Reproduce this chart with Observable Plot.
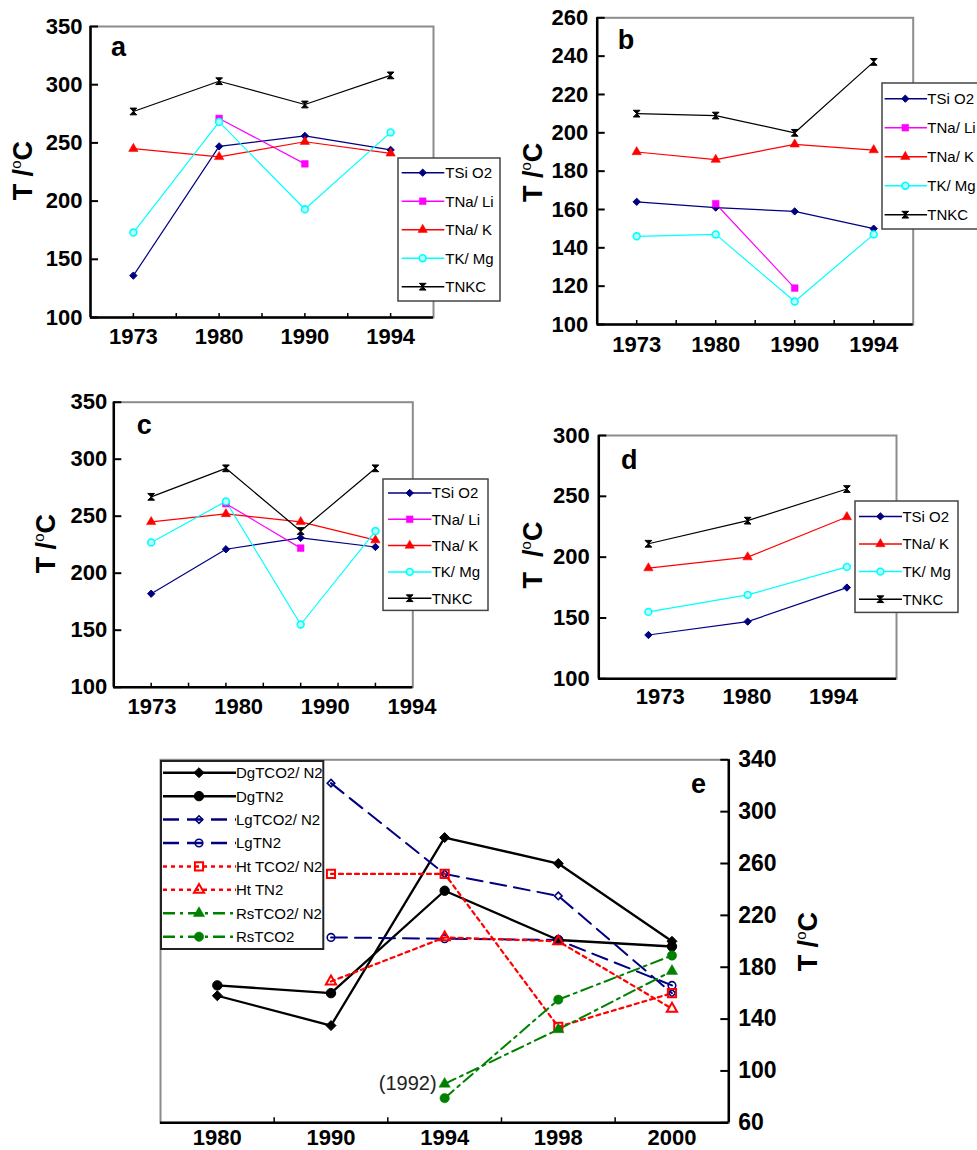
<!DOCTYPE html>
<html>
<head>
<meta charset="utf-8">
<script src="https://cdn.jsdelivr.net/npm/d3@7"></script>
<script src="https://cdn.jsdelivr.net/npm/@observablehq/plot@0.6"></script>
<style>
html,body{margin:0;padding:0;background:#fff;overflow:hidden}
#root{position:relative;width:977px;height:1150px;overflow:hidden;font-family:"Liberation Sans",Arial,Helvetica,sans-serif}
.pn{position:absolute}
.pn svg{display:block;overflow:visible}
</style>
</head>
<body>
<div id="root"></div>
<script>
// ---------------- DATA ----------------
const namesABC = ["TSi O2", "TNa/ Li", "TNa/ K", "TK/ Mg", "TNKC"];
const namesD = ["TSi O2", "TNa/ K", "TK/ Mg", "TNKC"];
const namesE = ["DgTCO2/ N2", "DgTN2", "LgTCO2/ N2", "LgTN2", "Ht TCO2/ N2", "Ht TN2", "RsTCO2/ N2", "RsTCO2"];

// panel a
const yearsA = ["1973", "1980", "1990", "1994"];
const a_TSiO2 = [136, 247, 256, 244];
const a_TNaLi = [null, 271, 232, null];
const a_TNaK = [245, 238, 251, 241];
const a_TKMg = [173, 268, 193, 259];
const a_TNKC = [277, 303, 283, 308];
const ticksA = [100, 150, 200, 250, 300, 350];

// panel b
const yearsB = ["1973", "1980", "1990", "1994"];
const b_TSiO2 = [164, 161, 159, 150];
const b_TNaLi = [null, 163, 119, null];
const b_TNaK = [190, 186, 194, 191];
const b_TKMg = [146, 147, 112, 147];
const b_TNKC = [210, 209, 200, 237];
const ticksB = [100, 120, 140, 160, 180, 200, 220, 240, 260];

// panel c
const yearsC = ["1973", "1980", "1990", "1994"];
const c_TSiO2 = [182, 221, 231, 223];
const c_TNaLi = [null, 261, 222, null];
const c_TNaK = [245, 252, 245, 229];
const c_TKMg = [227, 263, 155, 237];
const c_TNKC = [267, 292, 237, 292];
const ticksC = [100, 150, 200, 250, 300, 350];

// panel d
const yearsD = ["1973", "1980", "1994"];
const d_TSiO2 = [136, 147, 175];
const d_TNaK = [191, 200, 233];
const d_TKMg = [155, 169, 192];
const d_TNKC = [211, 230, 256];
const ticksD = [100, 150, 200, 250, 300];

// panel e
const yearsE = ["1980", "1990", "1994", "1998", "2000"];
const e_DgTCO2N2 = [158, 135, 280, 260, 200];
const e_DgTN2 = [166, 160, 239, 201, 196];
const e_LgTCO2N2 = [null, 322, 252, 235, 160];
const e_LgTN2 = [null, 203, 202, 201, 166];
const e_HtTCO2N2 = [null, 252, 252, 134, 160];
const e_HtTN2 = [null, 169, 203, 200, 148];
const e_RsTCO2N2 = [null, null, 90, 132, 177];
const e_RsTCO2 = [null, null, 79, 155, 189];
const ticksE = [60, 100, 140, 180, 220, 260, 300, 340];
const noteE = "(1992)";
const noteYear = "1994";

// ---------------- STYLES ----------------
const FONT = '"Liberation Sans", Arial, Helvetica, sans-serif';
const NAVY = "#000080", MAG = "#ff00ff", RED = "#ff0000", CYAN = "#00ffff", BLACK = "#000000", GREEN = "#008000";
const bowtie = {draw(ctx, size) {
  const r = Math.sqrt(size) / 2;
  ctx.moveTo(-r, -r); ctx.lineTo(r, -r); ctx.lineTo(-r, r); ctx.lineTo(r, r); ctx.closePath();
}};
const sty = {
  "TSi O2": {line: NAVY, lw: 1.2, symbol: d3.symbolDiamond2, r: 3.3, fill: NAVY, stroke: NAVY, sw: 1},
  "TNa/ Li": {line: MAG, lw: 1.2, symbol: d3.symbolSquare, r: 3.8, fill: MAG, stroke: MAG, sw: 0.5},
  "TNa/ K": {line: RED, lw: 1.2, symbol: d3.symbolTriangle, r: 3.5, fill: RED, stroke: RED, sw: 0.5},
  "TK/ Mg": {line: CYAN, lw: 1.2, symbol: d3.symbolCircle, r: 3.4, fill: "#b8ffff", stroke: CYAN, sw: 1.6},
  "TNKC": {line: BLACK, lw: 1.2, symbol: bowtie, r: 3.8, fill: BLACK, stroke: BLACK, sw: 1},
  "DgTCO2/ N2": {line: BLACK, lw: 2.3, symbol: d3.symbolDiamond2, r: 4.5, fill: BLACK, stroke: BLACK, sw: 1},
  "DgTN2": {line: BLACK, lw: 2.3, symbol: d3.symbolCircle, r: 4.7, fill: BLACK, stroke: BLACK, sw: 1},
  "LgTCO2/ N2": {line: NAVY, lw: 2, dash: "16,8", symbol: d3.symbolDiamond2, r: 3.4, fill: "none", stroke: NAVY, sw: 1.6},
  "LgTN2": {line: NAVY, lw: 2, dash: "16,8", symbol: d3.symbolCircle, r: 3.8, fill: "none", stroke: NAVY, sw: 1.6},
  "Ht TCO2/ N2": {line: RED, lw: 2.2, dash: "4,4", symbol: d3.symbolSquare, r: 4.6, fill: "none", stroke: RED, sw: 2},
  "Ht TN2": {line: RED, lw: 2.2, dash: "4,4", symbol: d3.symbolTriangle, r: 3.8, fill: "none", stroke: RED, sw: 2},
  "RsTCO2/ N2": {line: GREEN, lw: 2, dash: "12,5,3,5", symbol: d3.symbolTriangle, r: 4.2, fill: GREEN, stroke: GREEN, sw: 0.5},
  "RsTCO2": {line: GREEN, lw: 2, dash: "12,5,3,5", symbol: d3.symbolCircle, r: 4.7, fill: GREEN, stroke: GREEN, sw: 0.5}
};

const root = d3.select("#root");

function makePanel(cfg) {
  const [mt, mr, mb, ml] = cfg.margin;
  const n = cfg.cats.length;
  const pw = cfg.width - ml - mr, ph = cfg.height - mt - mb;
  const right = cfg.yAnchor === "right";
  const marks = [Plot.frame({stroke: "#8c8c8c", strokeWidth: 2})];
  for (const s of cfg.series) {
    const st = sty[s.name];
    marks.push(Plot.line(s.values, {x: (d, i) => i, y: d => d, stroke: st.line, strokeWidth: st.lw, strokeDasharray: st.dash}));
  }
  for (const s of cfg.series) {
    const st = sty[s.name];
    marks.push(Plot.dot(s.values, {x: (d, i) => i, y: d => d, symbol: st.symbol, r: st.r, fill: st.fill, stroke: st.stroke, strokeWidth: st.sw}));
  }
  marks.push(Plot.ruleY([cfg.yDomain[0]], {stroke: "#000", strokeWidth: 2.5}));
  marks.push(Plot.ruleX([right ? n - 0.5 : -0.5], {stroke: "#000", strokeWidth: 2.5}));
  marks.push(Plot.tickY(cfg.yTicks, {y: d => d, stroke: "#000", strokeWidth: 2, insetLeft: right ? pw - 8 : 0, insetRight: right ? 0 : pw - 8}));
  if (cfg.xTicks.length) marks.push(Plot.tickX(cfg.xTicks, {x: d => d, stroke: "#000", strokeWidth: 1.5, insetTop: ph - cfg.xTickLen}));
  marks.push(Plot.axisY({anchor: right ? "right" : "left", ticks: cfg.yTicks, tickSize: 0, tickPadding: cfg.yPad, label: null}));
  if (cfg.labelStep == null) {
    marks.push(Plot.axisX({ticks: d3.range(n), tickFormat: i => cfg.cats[i], tickSize: 0, tickPadding: cfg.xPad, label: null, fontSize: cfg.xfs || cfg.fs}));
  } else {
    marks.push(Plot.text(cfg.cats, {x: (d, i) => cfg.labelStart + i * cfg.labelStep, frameAnchor: "bottom", lineAnchor: "top", dy: cfg.xPad, text: d => d}));
  }
  if (cfg.extra) marks.push(...cfg.extra);
  const plot = Plot.plot({
    width: cfg.width, height: cfg.height,
    marginTop: mt, marginRight: mr, marginBottom: mb, marginLeft: ml,
    x: {type: "linear", domain: [-0.5, n - 0.5], axis: cfg.labelStep == null ? undefined : null},
    y: {type: "linear", domain: cfg.yDomain},
    style: {fontFamily: FONT, fontSize: cfg.fs + "px", fontWeight: "bold", background: "transparent", overflow: "visible", color: "#000"},
    marks
  });
  const div = root.append("div").attr("class", "pn")
    .style("left", cfg.left + "px").style("top", cfg.top + "px")
    .style("width", cfg.width + "px").style("height", cfg.height + "px");
  div.node().appendChild(plot);
}

function makeLegend(cfg) {
  const svg = root.append("svg").attr("class", "pn")
    .style("left", cfg.left + "px").style("top", cfg.top + "px")
    .attr("width", cfg.width + 4).attr("height", cfg.height + 4)
    .style("overflow", "visible");
  svg.append("rect").attr("x", 0).attr("y", 0).attr("width", cfg.width).attr("height", cfg.height)
    .attr("fill", "#fff").attr("stroke", cfg.border).attr("stroke-width", cfg.bw);
  cfg.names.forEach((name, i) => {
    const st = sty[name];
    const y = cfg.y0 + i * cfg.dy;
    svg.append("line").attr("x1", cfg.x0).attr("x2", cfg.x1).attr("y1", y).attr("y2", y)
      .attr("stroke", st.line).attr("stroke-width", cfg.lw || st.lw).attr("stroke-dasharray", st.dash || null);
    svg.append("path").attr("transform", `translate(${cfg.xm},${y})`)
      .attr("d", d3.symbol().type(st.symbol).size(Math.PI * st.r * st.r)())
      .attr("fill", st.fill).attr("stroke", st.stroke).attr("stroke-width", st.sw);
    svg.append("text").attr("x", cfg.xt).attr("y", y).attr("dy", "0.36em")
      .attr("font-family", FONT).attr("font-size", cfg.fs).text(name);
  });
}

// ---------------- PANELS ----------------
makePanel({left: 0, top: 0, width: 490, height: 360, margin: [26, 57, 43, 90], fs: 22,
  cats: yearsA, yDomain: [100, 350], yTicks: ticksA, yPad: 8, xPad: 10.5,
  xTicks: [0, 0.5, 1, 1.5, 2, 2.5, 3], xTickLen: 4,
  series: [{name: "TSi O2", values: a_TSiO2}, {name: "TNa/ Li", values: a_TNaLi}, {name: "TNa/ K", values: a_TNaK}, {name: "TK/ Mg", values: a_TKMg}, {name: "TNKC", values: a_TNKC}]});

makePanel({left: 490, top: 0, width: 487, height: 370, margin: [17.3, 64.3, 46, 106.7], fs: 22,
  cats: yearsB, yDomain: [100, 260], yTicks: ticksB, yPad: 9, xPad: 12,
  xTicks: [0, 0.5, 1, 1.5, 2, 2.5, 3], xTickLen: 4,
  series: [{name: "TSi O2", values: b_TSiO2}, {name: "TNa/ Li", values: b_TNaLi}, {name: "TNa/ K", values: b_TNaK}, {name: "TK/ Mg", values: b_TKMg}, {name: "TNKC", values: b_TNKC}]});

makePanel({left: 0, top: 390, width: 490, height: 340, margin: [11.7, 77.7, 43.3, 113.3], fs: 22,
  cats: yearsC, yDomain: [100, 350], yTicks: ticksC, yPad: 6.5, xPad: 11,
  xTicks: [0, 0.5, 1, 1.5, 2, 2.5, 3], xTickLen: 4, labelStart: 0.01, labelStep: 1.16,
  series: [{name: "TSi O2", values: c_TSiO2}, {name: "TNa/ Li", values: c_TNaLi}, {name: "TNa/ K", values: c_TNaK}, {name: "TK/ Mg", values: c_TKMg}, {name: "TNKC", values: c_TNKC}]});

makePanel({left: 490, top: 420, width: 487, height: 300, margin: [15, 81, 41.7, 108.3], fs: 22,
  cats: yearsD, yDomain: [100, 300], yTicks: ticksD, yPad: 9, xPad: 9.5,
  xTicks: [], xTickLen: 0, labelStart: 0.12, labelStep: 0.873,
  series: [{name: "TSi O2", values: d_TSiO2}, {name: "TNa/ K", values: d_TNaK}, {name: "TK/ Mg", values: d_TKMg}, {name: "TNKC", values: d_TNKC}]});

makePanel({left: 150, top: 745, width: 827, height: 405, margin: [14.3, 248.7, 27.7, 10], fs: 23, xfs: 22,
  cats: yearsE, yDomain: [60, 340], yTicks: ticksE, yPad: 9.4, xPad: 6.5, yAnchor: "right",
  xTicks: [0.5, 1.5, 2.5, 3.5], xTickLen: 5,
  series: namesE.map((name, k) => ({name, values: [e_DgTCO2N2, e_DgTN2, e_LgTCO2N2, e_LgTN2, e_HtTCO2N2, e_HtTN2, e_RsTCO2N2, e_RsTCO2][k]})),
  extra: [Plot.text([noteE], {x: yearsE.indexOf(noteYear), y: e_RsTCO2N2[yearsE.indexOf(noteYear)], text: d => d, textAnchor: "end", dx: -8, fontSize: 20, fontWeight: "normal", fill: "#222"})]});

// ---------------- LEGENDS ----------------
makeLegend({left: 398, top: 158, width: 102, height: 143, border: "#444", bw: 1.5, fs: 15, lw: 1.5,
  names: namesABC, y0: 14.7, dy: 28.5, x0: 3.7, x1: 46.3, xm: 24.7, xt: 47.3});
makeLegend({left: 881.7, top: 83, width: 120, height: 146, border: "#444", bw: 1.5, fs: 15, lw: 1.5,
  names: namesABC, y0: 15.7, dy: 29, x0: 2.6, x1: 45, xm: 23.3, xt: 45.3});
makeLegend({left: 383.3, top: 479.3, width: 105, height: 131.4, border: "#444", bw: 1.5, fs: 15, lw: 1.5,
  names: namesABC, y0: 14, dy: 26.3, x0: 5, x1: 48.4, xm: 26.7, xt: 48.7});
makeLegend({left: 855.3, top: 501.3, width: 103, height: 111.4, border: "#444", bw: 1.5, fs: 15, lw: 1.5,
  names: namesD, y0: 15.4, dy: 27.6, x0: 4, x1: 47, xm: 25.4, xt: 47.4});
makeLegend({left: 161, top: 761, width: 162.3, height: 188, border: "#222", bw: 2, fs: 15, lw: 2.5,
  names: namesE, y0: 11.7, dy: 23.43, x0: 2, x1: 75, xm: 38, xt: 75});

// ---------------- TITLES / LETTERS ----------------
const over = root.append("svg").attr("class", "pn").style("left", "0px").style("top", "0px")
  .attr("width", 977).attr("height", 1150).style("pointer-events", "none");
const letters = [["a", 111, 56], ["b", 617.7, 49.3], ["c", 136.7, 434.3], ["d", 621, 469.3], ["e", 691, 793.3]];
letters.forEach(([t, x, y]) => over.append("text").attr("x", x).attr("y", y)
  .attr("font-family", FONT).attr("font-weight", "bold").attr("font-size", 27).text(t));
const yTitles = [["T /", 31.7, 170.7], ["T /", 541.7, 172.3], ["T /", 55, 543.7], ["T\u00a0\u00a0/", 541.7, 555], ["T /", 817.3, 941.7]];
yTitles.forEach(([t, x, y]) => {
  const tx = over.append("text").attr("transform", `translate(${x},${y}) rotate(-90)`)
    .attr("text-anchor", "middle").attr("font-family", FONT).attr("font-weight", "bold").attr("font-size", 27);
  tx.append("tspan").text(t);
  tx.append("tspan").attr("font-size", 15).attr("font-weight", "normal").attr("dy", -11).text("o");
  tx.append("tspan").attr("dy", 11).text("C");
});
</script>
</body>
</html>
